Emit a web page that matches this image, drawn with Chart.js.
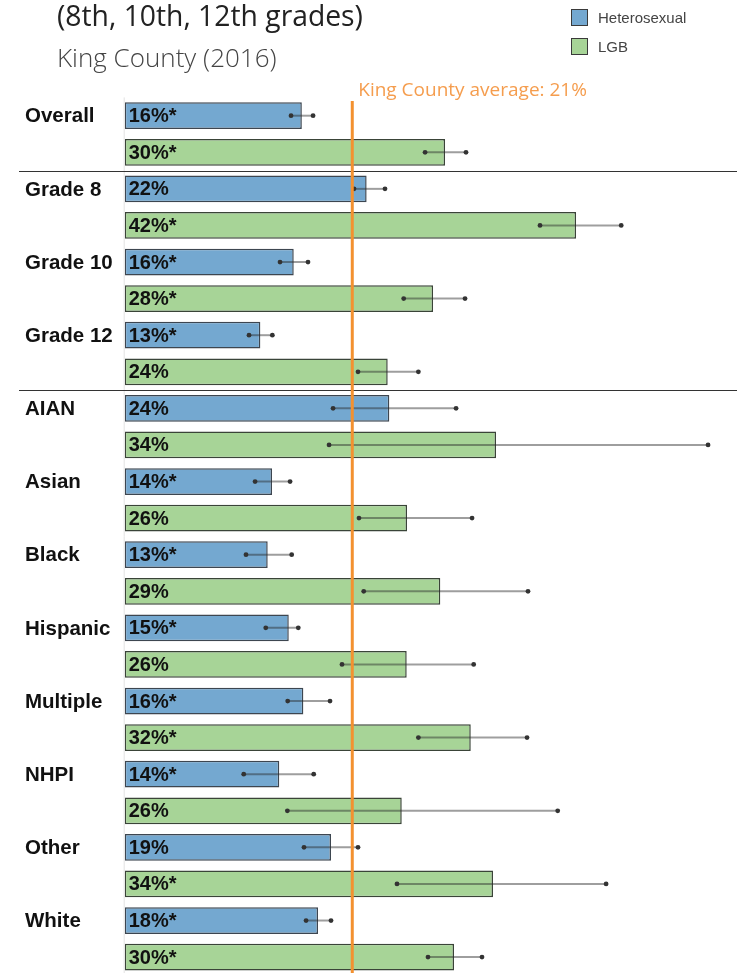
<!DOCTYPE html>
<html>
<head>
<meta charset="utf-8">
<script src="https://cdn.jsdelivr.net/npm/chart.js@4"></script>
<style>
  html, body { margin: 0; padding: 0; background: #fff; overflow: hidden; }
  #wrap { position: relative; width: 737px; height: 976px; }
  #title { position: absolute; left: 57px; top: -4px; font: 400 28.3px "Open Sans", sans-serif; color: #222; white-space: nowrap; }
  #subtitle { position: absolute; left: 57px; top: 38.5px; font: 300 26px "Open Sans", sans-serif; color: #444; white-space: nowrap; }
  .leg { position: absolute; left: 571px; font: 15px "Liberation Sans", Arial, sans-serif; color: #444; display: flex; align-items: center; }
  .leg span.box { display: inline-block; width: 15px; height: 15px; border: 1px solid #3a3a3a; margin-right: 10px; }
</style>
</head>
<body>
<div id="wrap">
  <div id="title">(8th, 10th, 12th grades)</div>
  <div id="subtitle">King County (2016)</div>
  <div class="leg" style="top:9px"><span class="box" style="background:#74A8D0"></span>Heterosexual</div>
  <div class="leg" style="top:38px"><span class="box" style="background:#A7D497"></span>LGB</div>
  <canvas id="chart"></canvas>
</div>
<script>
const categories = ["Overall", "Grade 8", "Grade 10", "Grade 12", "AIAN", "Asian", "Black", "Hispanic", "Multiple", "NHPI", "Other", "White"];

const heteroValues = [16.4, 22.4, 15.65, 12.56, 24.5, 13.64, 13.24, 15.19, 16.54, 14.31, 19.1, 17.9];
const heteroLow    = [15.4, 21.23, 14.38, 11.51, 19.29, 12.07, 11.23, 13.06, 15.09, 11.02, 16.6, 16.79];
const heteroHigh   = [17.44, 24.1, 16.97, 13.67, 30.68, 15.31, 15.46, 16.07, 19.01, 17.5, 21.6, 19.1];
const heteroLabels = ["16%*", "22%", "16%*", "13%*", "24%", "14%*", "13%*", "15%*", "16%*", "14%*", "19%", "18%*"];

const lgbValues = [29.66, 41.79, 28.55, 24.35, 34.38, 26.14, 29.22, 26.11, 32.04, 25.65, 34.1, 30.49];
const lgbLow    = [27.81, 38.45, 25.83, 21.6, 18.92, 21.69, 22.13, 20.12, 27.19, 15.06, 25.21, 28.08];
const lgbHigh   = [31.6, 45.97, 31.51, 27.19, 54.01, 32.16, 37.34, 32.31, 37.25, 40.09, 44.57, 33.08];
const lgbLabels = ["30%*", "42%*", "28%*", "24%", "34%", "26%", "29%", "26%", "32%*", "26%", "34%*", "30%*"];

const countyAverage = 21.07;
const countyAverageLabel = "King County average: 21%";
const separatorsAfter = [0, 3];

const lowByDataset = [heteroLow, lgbLow];
const highByDataset = [heteroHigh, lgbHigh];
const labelsByDataset = [heteroLabels, lgbLabels];

const overlay = {
  id: "overlay",
  afterDatasetsDraw(chart) {
    const ctx = chart.ctx;
    const xs = chart.scales.x;
    const area = chart.chartArea;
    ctx.save();

    // faint axis line at zero
    ctx.strokeStyle = "#e2e2e2";
    ctx.lineWidth = 1;
    ctx.beginPath();
    ctx.moveTo(xs.getPixelForValue(0) - 0.5, area.top);
    ctx.lineTo(xs.getPixelForValue(0) - 0.5, area.bottom);
    ctx.stroke();

    // separators between groups
    const m0 = chart.getDatasetMeta(0).data;
    const m1 = chart.getDatasetMeta(1).data;
    ctx.strokeStyle = "#333";
    separatorsAfter.forEach(i => {
      const y = Math.round((m1[i].y + m0[i + 1].y) / 2) + 0.5;
      ctx.beginPath();
      ctx.moveTo(19, y);
      ctx.lineTo(chart.width, y);
      ctx.stroke();
    });

    // error bars
    [0, 1].forEach(d => {
      chart.getDatasetMeta(d).data.forEach((bar, i) => {
        const x1 = xs.getPixelForValue(lowByDataset[d][i]);
        const x2 = xs.getPixelForValue(highByDataset[d][i]);
        ctx.strokeStyle = "rgba(40,40,40,0.45)";
        ctx.lineWidth = 2;
        ctx.beginPath();
        ctx.moveTo(x1, bar.y);
        ctx.lineTo(x2, bar.y);
        ctx.stroke();
        ctx.fillStyle = "#333";
        [x1, x2].forEach(x => {
          ctx.beginPath();
          ctx.arc(x, bar.y, 2.4, 0, Math.PI * 2);
          ctx.fill();
        });
      });
    });

    // county average line
    const ax = xs.getPixelForValue(countyAverage);
    ctx.strokeStyle = "#F39130";
    ctx.lineWidth = 3;
    ctx.beginPath();
    ctx.moveTo(ax, 101);
    ctx.lineTo(ax, chart.height);
    ctx.stroke();
    ctx.fillStyle = "#F59D4E";
    ctx.font = '19px "Open Sans", sans-serif';
    ctx.textAlign = "left";
    ctx.textBaseline = "alphabetic";
    ctx.fillText(countyAverageLabel, ax + 6, 96);

    // category names and value labels
    ctx.fillStyle = "#111";
    ctx.textBaseline = "middle";
    ctx.font = 'bold 20.5px "Liberation Sans", Arial, sans-serif';
    m0.forEach((bar, i) => ctx.fillText(categories[i], 25, bar.y + 1));
    ctx.font = 'bold 20px "Liberation Sans", Arial, sans-serif';
    [0, 1].forEach(d => {
      chart.getDatasetMeta(d).data.forEach((bar, i) => {
        ctx.fillText(labelsByDataset[d][i], bar.base + 4, bar.y + 1);
      });
    });
    ctx.restore();
  }
};

new Chart(document.getElementById("chart"), {
  type: "bar",
  data: {
    labels: categories,
    datasets: [
      { label: "Heterosexual", data: heteroValues, backgroundColor: "#74A8D0", borderColor: "#3d4650", borderWidth: 1.5, borderSkipped: false },
      { label: "LGB", data: lgbValues, backgroundColor: "#A7D497", borderColor: "#3a4438", borderWidth: 1.5, borderSkipped: false }
    ]
  },
  options: {
    indexAxis: "y",
    responsive: true,
    maintainAspectRatio: false,
    animation: false,
    layout: { padding: { left: 124.7, right: 0, top: 97.4, bottom: 0.6 } },
    datasets: { bar: { categoryPercentage: 1.0, barPercentage: 0.73 } },
    plugins: { legend: { display: false }, tooltip: { enabled: false } },
    scales: {
      x: { display: false, min: 0, max: 56.69 },
      y: { display: false, grid: { display: false } }
    }
  },
  plugins: [overlay]
});
</script>
</body>
</html>
